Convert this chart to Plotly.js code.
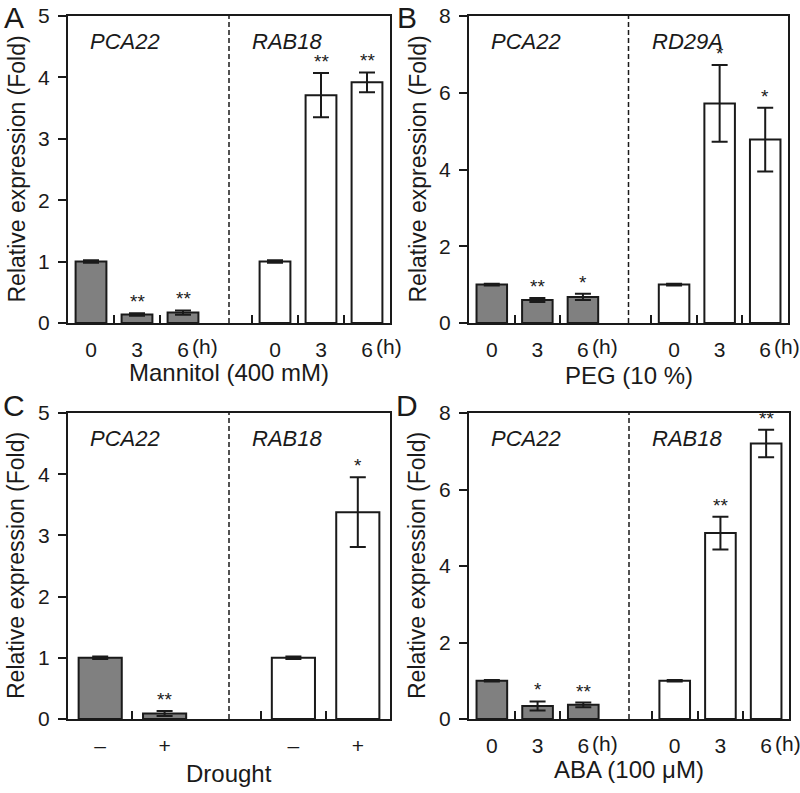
<!DOCTYPE html>
<html><head><meta charset="utf-8">
<script src="https://cdn.plot.ly/plotly-3.0.1.min.js"></script>
<style>html,body{margin:0;padding:0;background:#fff}#chart{width:800px;height:793px}</style>
</head><body><div id="chart"></div>
<script>
// ---- data ----
const timeLabels = ["0", "3", "6"];
const droughtLabels = ["–", "+"];

const panelLetters = ["A", "B", "C", "D"];
const xTitles = ["Mannitol (400 mM)", "PEG (10 %)", "Drought", "ABA (100 μM)"];
const yTitle = "Relative expression (Fold)";
const geneLeft = ["PCA22", "PCA22", "PCA22", "PCA22"];
const geneRight = ["RAB18", "RD29A", "RAB18", "RAB18"];
const yMax = [5, 8, 5, 8];
const yDtick = [1, 2, 1, 2];

const aPCA22 = [1.0, 0.14, 0.17];
const aPCA22Err = [0.02, 0.02, 0.035];
const aPCA22Sig = ["", "**", "**"];
const aRAB18 = [1.0, 3.71, 3.92];
const aRAB18Err = [0.02, 0.36, 0.16];
const aRAB18Sig = ["", "**", "**"];

const bPCA22 = [1.0, 0.60, 0.68];
const bPCA22Err = [0.02, 0.05, 0.08];
const bPCA22Sig = ["", "**", "*"];
const bRD29A = [1.0, 5.72, 4.78];
const bRD29AErr = [0.02, 1.0, 0.83];
const bRD29ASig = ["", "*", "*"];

const cPCA22 = [1.0, 0.09];
const cPCA22Err = [0.02, 0.04];
const cPCA22Sig = ["", "**"];
const cRAB18 = [1.0, 3.38];
const cRAB18Err = [0.02, 0.57];
const cRAB18Sig = ["", "*"];

const dPCA22 = [1.0, 0.34, 0.37];
const dPCA22Err = [0.02, 0.12, 0.06];
const dPCA22Sig = ["", "*", "**"];
const dRAB18 = [1.0, 4.86, 7.20];
const dRAB18Err = [0.02, 0.43, 0.36];
const dRAB18Sig = ["", "**", "**"];

// ---- assembly ----
const panelData = [
  {labels: timeLabels, hours: true, v: [aPCA22, aRAB18], e: [aPCA22Err, aRAB18Err], s: [aPCA22Sig, aRAB18Sig]},
  {labels: timeLabels, hours: true, v: [bPCA22, bRD29A], e: [bPCA22Err, bRD29AErr], s: [bPCA22Sig, bRD29ASig]},
  {labels: droughtLabels, hours: false, v: [cPCA22, cRAB18], e: [cPCA22Err, cRAB18Err], s: [cPCA22Sig, cRAB18Sig]},
  {labels: timeLabels, hours: true, v: [dPCA22, dRAB18], e: [dPCA22Err, dRAB18Err], s: [dPCA22Sig, dRAB18Sig]}
];

const W = 800, H = 793;
const font = "Liberation Sans, Arial, sans-serif";
const ink = "#1a1a1a";
const fills = ["#808080", "#ffffff"];
// plot-area boxes in px: [left, right, top, bottom]
const boxes = [[68, 390, 16, 323], [469, 788, 16, 323], [68, 390, 413, 719], [469, 789, 413, 719]];
const xTitleY = [373, 375, 773, 769];
const letterPos = [[14, 17], [407, 18], [14, 405], [407, 405]];
const yTitleX = [16, 417];

const traces = [];
const layout = {
  width: W, height: H, margin: {l: 0, r: 0, t: 0, b: 0},
  paper_bgcolor: "#fff", plot_bgcolor: "#fff",
  barmode: "overlay", bargap: 0.33, showlegend: false,
  font: {family: font, color: ink},
  annotations: [], shapes: []
};

panelData.forEach((p, k) => {
  const xa = k === 0 ? "x" : "x" + (k + 1);
  const ya = k === 0 ? "y" : "y" + (k + 1);
  const genes = [geneLeft[k], geneRight[k]];
  const cats = genes.map(g => p.labels.map(l => g + " " + l));
  const catArr = [...cats[0], "gap", ...cats[1]];
  const b = boxes[k];

  [0, 1].forEach(gi => {
    traces.push({
      type: "bar", x: cats[gi], y: p.v[gi], xaxis: xa, yaxis: ya,
      marker: {color: fills[gi], line: {color: ink, width: 2}},
      error_y: {type: "data", array: p.e[gi], visible: true, color: ink, thickness: 2, width: 8},
      hoverinfo: "skip", showlegend: false
    });
    // significance marks
    p.s[gi].forEach((s, j) => {
      if (!s) return;
      layout.annotations.push({
        xref: xa, yref: ya, x: cats[gi][j], y: p.v[gi][j] + p.e[gi][j],
        text: s, showarrow: false, yanchor: "bottom", yshift: -1,
        font: {family: font, size: 19, color: ink}
      });
    });
    // gene label
    layout.annotations.push({
      xref: xa + " domain", yref: ya + " domain", x: gi === 0 ? 0.062 : 0.566, y: 0.918,
      xanchor: "left", yanchor: "middle", showarrow: false,
      text: "<i>" + genes[gi] + "</i>", font: {family: font, size: 22, color: ink}
    });
    // (h) unit
    if (p.hours) {
      layout.annotations.push({
        xref: xa, yref: ya + " domain", x: cats[gi][cats[gi].length - 1], y: 0,
        xshift: 22, yshift: -24, yanchor: "middle", showarrow: false,
        text: "(h)", font: {family: font, size: 21, color: ink}
      });
    }
  });

  const axKey = k === 0 ? "xaxis" : "xaxis" + (k + 1);
  const ayKey = k === 0 ? "yaxis" : "yaxis" + (k + 1);
  layout[axKey] = {
    domain: [b[0] / W, b[1] / W], anchor: ya,
    type: "category", categoryorder: "array", categoryarray: catArr,
    range: [-0.5, catArr.length - 0.5],
    tickmode: "array", tickvals: [...cats[0], ...cats[1]], ticktext: [...p.labels, ...p.labels],
    ticks: "inside", tickson: "boundaries", ticklen: 8, tickwidth: 2, tickcolor: ink,
    showline: true, linewidth: 2, linecolor: ink, mirror: true,
    showgrid: false, zeroline: false, fixedrange: true,
    tickfont: {family: font, size: 21, color: ink}, ticklabelstandoff: 7
  };
  layout[ayKey] = {
    domain: [1 - b[3] / H, 1 - b[2] / H], anchor: xa,
    range: [0, yMax[k]], dtick: yDtick[k], tick0: 0,
    ticks: "outside", ticklen: 8, tickwidth: 2, tickcolor: ink,
    showline: true, linewidth: 2, linecolor: ink, mirror: true,
    showgrid: false, zeroline: false, fixedrange: true,
    tickfont: {family: font, size: 21, color: ink}, ticklabelstandoff: 4
  };

  // dashed separator
  layout.shapes.push({
    type: "line", xref: xa, yref: ya + " domain",
    x0: catArr.indexOf("gap"), x1: catArr.indexOf("gap"), y0: 0, y1: 1,
    line: {color: ink, width: 1.5, dash: "5px,3px"}
  });

  // x title
  layout.annotations.push({
    xref: "paper", yref: "paper", x: (b[0] + b[1]) / 2 / W, y: 1 - xTitleY[k] / H,
    xanchor: "center", yanchor: "middle", showarrow: false,
    text: xTitles[k], font: {family: font, size: 24, color: ink}
  });
  // y title
  layout.annotations.push({
    xref: "paper", yref: "paper", x: yTitleX[k % 2] / W, y: 1 - (b[2] + b[3]) / 2 / H,
    xanchor: "center", yanchor: "middle", showarrow: false, textangle: -90,
    text: yTitle, font: {family: font, size: 23, color: ink}
  });
  // panel letter
  layout.annotations.push({
    xref: "paper", yref: "paper", x: letterPos[k][0] / W, y: 1 - letterPos[k][1] / H,
    xanchor: "center", yanchor: "middle", showarrow: false,
    text: panelLetters[k], font: {family: font, size: 30, color: ink}
  });
});

Plotly.newPlot("chart", traces, layout, {displayModeBar: false, staticPlot: true});
</script>
</body></html>
